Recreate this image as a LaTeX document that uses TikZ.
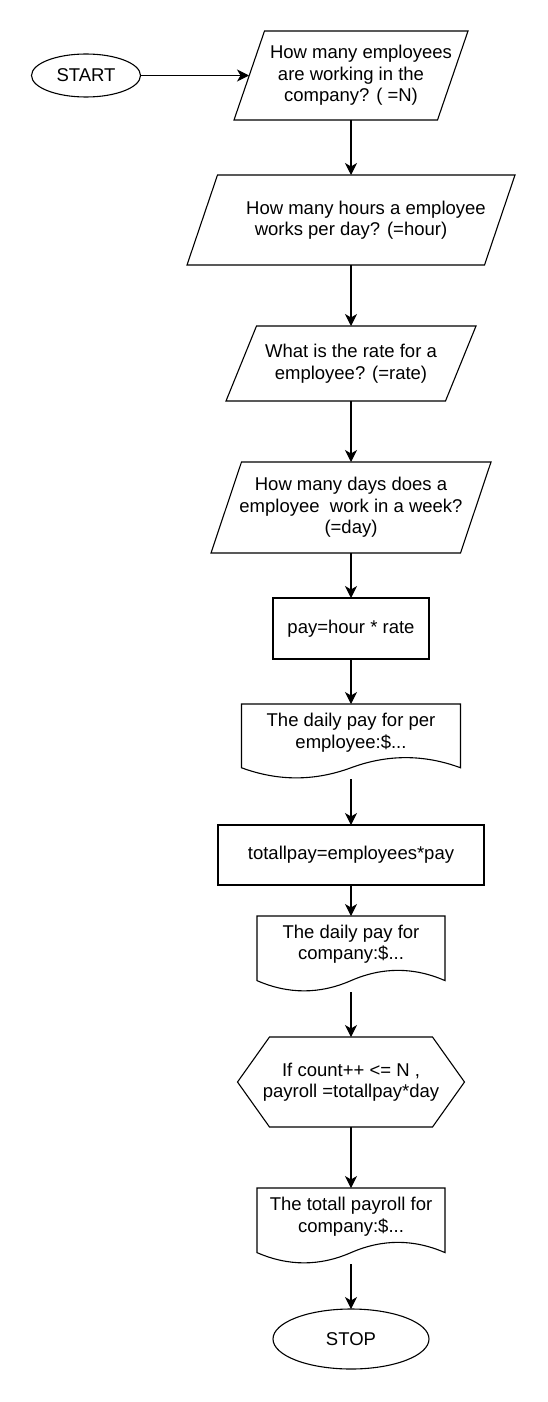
\documentclass[tikz,border=0pt]{standalone}
\usepackage{fontspec}
\setmainfont{Liberation Sans}
\usetikzlibrary{shapes.geometric, positioning, arrows.meta}

\tikzset{
  box/.style={rectangle, inner sep=0pt, outer sep=0pt, align=center,
    font=\fontsize{18.5}{21.5}\selectfont},
  terminal/.style={box, ellipse, draw, line width=1.1pt},
  process/.style={box, draw, line width=1.1pt},
  outline/.style={draw, line width=1.1pt, line join=miter},
  arrow/.style={line width=1.1pt, -{Stealth[length=12pt, width=12pt, inset=3.5pt]}}
}

% outlines drawn round empty boxes
\newcommand{\paraout}[1]{\draw[outline] ([xshift=30.5pt]#1.north west) -- (#1.north east)
  -- ([xshift=-30.5pt]#1.south east) -- (#1.south west) -- cycle;}
\newcommand{\docout}[3]{\draw[outline, shift={(#1.north west)}, x=#2, y=-#3]
  (0,0) -- (1,0) -- (1,.85) .. controls (.8333,.67) and (.6667,.67) .. (.5,.85)
  .. controls (.3333,1.03) and (.1667,1.03) .. (0,.85) -- cycle;}

\begin{document}
\begin{tikzpicture}[x=1pt, y=-1pt]
\useasboundingbox (0,0) rectangle (548,1402);

\node[box, minimum width=234pt, minimum height=89pt] (employees) at (351,75.5)
  {\hspace*{20pt}How many employees\\are working in the\\company? ( =N)};
\node[terminal, minimum width=109pt, minimum height=43pt, left=93.5pt of employees] (start) {START};
\node[box, minimum width=328pt, minimum height=90pt, below=55pt of employees] (hours)
  {\hspace*{30pt}How many hours a employee\\works per day? (=hour)};
\node[box, minimum width=250pt, minimum height=75pt, below=61pt of hours] (rate)
  {What is the rate for a\\employee? (=rate)};
\node[box, minimum width=280pt, minimum height=91pt, below=61pt of rate] (days)
  {How many days does a\\employee\ \ work in a week?\\(=day)};
\node[process, minimum width=156pt, minimum height=61pt, below=45pt of days] (pay) {pay=hour * rate};
\node[box, minimum width=219pt, minimum height=75pt, below=45pt of pay] (dailypay) {};
\node[box] (dailypay text) at ([yshift=9pt]dailypay.center) {The daily pay for per\\employee:\$...};
\node[process, minimum width=266pt, minimum height=60pt, below=46pt of dailypay] (totalpay)
  {totallpay=employees*pay};
\node[box, minimum width=188pt, minimum height=76pt, below=31pt of totalpay] (companypay) {};
\node[box] (companypay text) at ([yshift=10pt]companypay.center) {The daily pay for\\company:\$...};
\node[box, minimum width=227pt, minimum height=90pt, below=45pt of companypay] (payroll)
  {If count++ <= N ,\\payroll =totallpay*day};
\node[box, minimum width=188pt, minimum height=76pt, below=61pt of payroll] (totalpayroll) {};
\node[box] (totalpayroll text) at ([yshift=9.5pt]totalpayroll.center) {The totall payroll for\\company:\$...};
\node[terminal, minimum width=156pt, minimum height=60pt, below=45pt of totalpayroll] (stop) {STOP};

\paraout{employees}
\paraout{hours}
\paraout{rate}
\paraout{days}
\docout{dailypay}{219pt}{75pt}
\docout{companypay}{188pt}{76pt}
\docout{totalpayroll}{188pt}{76pt}
\draw[outline] ([xshift=32pt]payroll.north west) -- ([xshift=-32pt]payroll.north east) -- (payroll.east)
  -- ([xshift=-32pt]payroll.south east) -- ([xshift=32pt]payroll.south west) -- (payroll.west) -- cycle;

\draw[arrow] (start) -- ([xshift=15pt]employees.west);
\foreach \a/\b in {employees/hours, hours/rate, rate/days, days/pay, pay/dailypay,
  dailypay/totalpay, totalpay/companypay, companypay/payroll, payroll/totalpayroll, totalpayroll/stop}
  \draw[arrow] (\a) -- (\b);
\end{tikzpicture}
\end{document}
